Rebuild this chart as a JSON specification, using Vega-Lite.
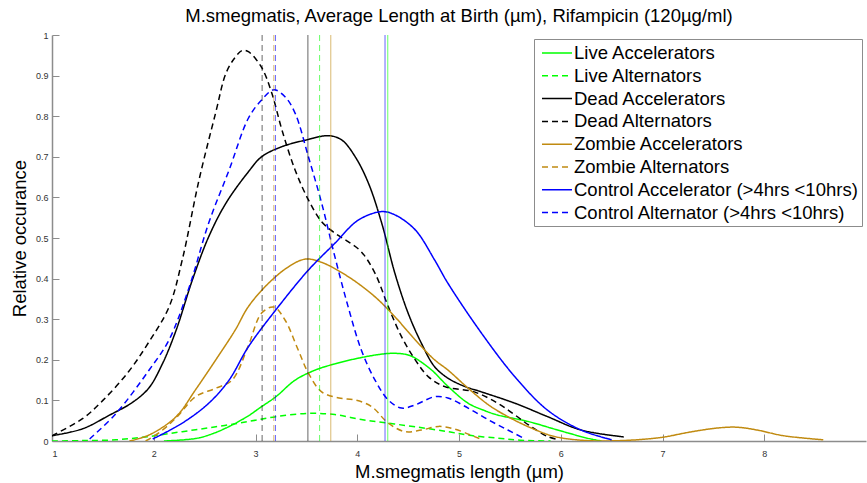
{
  "$schema": "https://vega.github.io/schema/vega-lite/v6.json",
  "autosize": "none",
  "width": 814,
  "height": 406,
  "padding": {"left": 52, "top": 35, "right": 1, "bottom": 42},
  "background": "white",
  "title": {
    "text": "M.smegmatis, Average Length at Birth (µm), Rifampicin (120µg/ml)",
    "font": "Liberation Sans",
    "fontSize": 18.5,
    "fontWeight": "normal",
    "color": "#000000",
    "anchor": "middle",
    "offset": 6
  },
  "config": {
    "view": {"stroke": null},
    "font": "Liberation Sans",
    "axis": {
      "grid": false,
      "domainColor": "#8c8c8c",
      "domainWidth": 1.5,
      "tickColor": "#8c8c8c",
      "tickWidth": 1,
      "tickSize": -7,
      "labelFont": "Liberation Sans",
      "labelFontSize": 9,
      "labelColor": "#333333",
      "titleFont": "Liberation Sans",
      "titleFontSize": 18.5,
      "titleFontWeight": "normal",
      "titleColor": "#000000"
    },
    "legend": {
      "orient": "top-right",
      "offset": 4,
      "strokeColor": "#8c8c8c",
      "fillColor": "#ffffff",
      "padding": 3,
      "rowPadding": 1.8,
      "labelFont": "Liberation Sans",
      "labelFontSize": 18.5,
      "labelColor": "#000000",
      "labelLimit": 400,
      "labelOffset": 6,
      "symbolType": "M-1.5,0L1.5,0",
      "symbolSize": 400,
      "symbolStrokeWidth": 1.5,
      "symbolOpacity": 1,
      "symbolOffset": 9
    }
  },
  "datasets": {
    "curves": [
      {"s": "Live Accelerators", "x": 2.1, "y": 0},
      {"s": "Live Accelerators", "x": 2.3, "y": 0.003},
      {"s": "Live Accelerators", "x": 2.45, "y": 0.008},
      {"s": "Live Accelerators", "x": 2.6, "y": 0.02},
      {"s": "Live Accelerators", "x": 2.71, "y": 0.032},
      {"s": "Live Accelerators", "x": 2.82, "y": 0.046},
      {"s": "Live Accelerators", "x": 2.93, "y": 0.062},
      {"s": "Live Accelerators", "x": 3.05, "y": 0.083},
      {"s": "Live Accelerators", "x": 3.2, "y": 0.109},
      {"s": "Live Accelerators", "x": 3.39, "y": 0.15},
      {"s": "Live Accelerators", "x": 3.59, "y": 0.175},
      {"s": "Live Accelerators", "x": 3.78, "y": 0.19},
      {"s": "Live Accelerators", "x": 4.01, "y": 0.204},
      {"s": "Live Accelerators", "x": 4.24, "y": 0.214},
      {"s": "Live Accelerators", "x": 4.37, "y": 0.216},
      {"s": "Live Accelerators", "x": 4.5, "y": 0.212},
      {"s": "Live Accelerators", "x": 4.57, "y": 0.204},
      {"s": "Live Accelerators", "x": 4.73, "y": 0.175},
      {"s": "Live Accelerators", "x": 4.89, "y": 0.135},
      {"s": "Live Accelerators", "x": 5.09, "y": 0.093},
      {"s": "Live Accelerators", "x": 5.25, "y": 0.075},
      {"s": "Live Accelerators", "x": 5.38, "y": 0.064},
      {"s": "Live Accelerators", "x": 5.68, "y": 0.048},
      {"s": "Live Accelerators", "x": 5.97, "y": 0.027},
      {"s": "Live Accelerators", "x": 6.26, "y": 0.007},
      {"s": "Live Accelerators", "x": 6.4, "y": 0},

      {"s": "Live Alternators", "x": 1.0, "y": 0},
      {"s": "Live Alternators", "x": 1.3, "y": 0.001},
      {"s": "Live Alternators", "x": 1.63, "y": 0.003},
      {"s": "Live Alternators", "x": 1.95, "y": 0.011},
      {"s": "Live Alternators", "x": 2.28, "y": 0.023},
      {"s": "Live Alternators", "x": 2.61, "y": 0.035},
      {"s": "Live Alternators", "x": 2.93, "y": 0.048},
      {"s": "Live Alternators", "x": 3.2, "y": 0.06},
      {"s": "Live Alternators", "x": 3.52, "y": 0.068},
      {"s": "Live Alternators", "x": 3.78, "y": 0.065},
      {"s": "Live Alternators", "x": 4.04, "y": 0.053},
      {"s": "Live Alternators", "x": 4.3, "y": 0.044},
      {"s": "Live Alternators", "x": 4.57, "y": 0.035},
      {"s": "Live Alternators", "x": 4.89, "y": 0.023},
      {"s": "Live Alternators", "x": 5.1, "y": 0.014},
      {"s": "Live Alternators", "x": 5.38, "y": 0.007},
      {"s": "Live Alternators", "x": 5.6, "y": 0.002},
      {"s": "Live Alternators", "x": 5.9, "y": 0},

      {"s": "Dead Accelerators", "x": 1.0, "y": 0.013},
      {"s": "Dead Accelerators", "x": 1.3, "y": 0.03},
      {"s": "Dead Accelerators", "x": 1.56, "y": 0.063},
      {"s": "Dead Accelerators", "x": 1.79, "y": 0.095},
      {"s": "Dead Accelerators", "x": 1.95, "y": 0.13},
      {"s": "Dead Accelerators", "x": 2.085, "y": 0.19},
      {"s": "Dead Accelerators", "x": 2.22, "y": 0.273},
      {"s": "Dead Accelerators", "x": 2.38, "y": 0.397},
      {"s": "Dead Accelerators", "x": 2.54, "y": 0.503},
      {"s": "Dead Accelerators", "x": 2.71, "y": 0.586},
      {"s": "Dead Accelerators", "x": 2.93, "y": 0.663},
      {"s": "Dead Accelerators", "x": 3.06, "y": 0.7},
      {"s": "Dead Accelerators", "x": 3.26, "y": 0.725},
      {"s": "Dead Accelerators", "x": 3.49, "y": 0.741},
      {"s": "Dead Accelerators", "x": 3.72, "y": 0.752},
      {"s": "Dead Accelerators", "x": 3.85, "y": 0.741},
      {"s": "Dead Accelerators", "x": 3.98, "y": 0.7},
      {"s": "Dead Accelerators", "x": 4.11, "y": 0.635},
      {"s": "Dead Accelerators", "x": 4.24, "y": 0.537},
      {"s": "Dead Accelerators", "x": 4.37, "y": 0.413},
      {"s": "Dead Accelerators", "x": 4.5, "y": 0.315},
      {"s": "Dead Accelerators", "x": 4.63, "y": 0.241},
      {"s": "Dead Accelerators", "x": 4.76, "y": 0.183},
      {"s": "Dead Accelerators", "x": 4.89, "y": 0.155},
      {"s": "Dead Accelerators", "x": 5.05, "y": 0.135},
      {"s": "Dead Accelerators", "x": 5.22, "y": 0.121},
      {"s": "Dead Accelerators", "x": 5.55, "y": 0.093},
      {"s": "Dead Accelerators", "x": 5.87, "y": 0.06},
      {"s": "Dead Accelerators", "x": 6.2, "y": 0.027},
      {"s": "Dead Accelerators", "x": 6.62, "y": 0.01},

      {"s": "Dead Alternators", "x": 1.0, "y": 0.013},
      {"s": "Dead Alternators", "x": 1.3, "y": 0.055},
      {"s": "Dead Alternators", "x": 1.5, "y": 0.1},
      {"s": "Dead Alternators", "x": 1.75, "y": 0.17},
      {"s": "Dead Alternators", "x": 1.955, "y": 0.245},
      {"s": "Dead Alternators", "x": 2.15, "y": 0.33},
      {"s": "Dead Alternators", "x": 2.28, "y": 0.446},
      {"s": "Dead Alternators", "x": 2.445, "y": 0.643},
      {"s": "Dead Alternators", "x": 2.61, "y": 0.81},
      {"s": "Dead Alternators", "x": 2.71, "y": 0.906},
      {"s": "Dead Alternators", "x": 2.8, "y": 0.945},
      {"s": "Dead Alternators", "x": 2.87, "y": 0.962},
      {"s": "Dead Alternators", "x": 2.93, "y": 0.959},
      {"s": "Dead Alternators", "x": 3.06, "y": 0.92},
      {"s": "Dead Alternators", "x": 3.16, "y": 0.857},
      {"s": "Dead Alternators", "x": 3.26, "y": 0.766},
      {"s": "Dead Alternators", "x": 3.39, "y": 0.667},
      {"s": "Dead Alternators", "x": 3.52, "y": 0.594},
      {"s": "Dead Alternators", "x": 3.65, "y": 0.54},
      {"s": "Dead Alternators", "x": 3.78, "y": 0.512},
      {"s": "Dead Alternators", "x": 3.91, "y": 0.491},
      {"s": "Dead Alternators", "x": 4.04, "y": 0.466},
      {"s": "Dead Alternators", "x": 4.175, "y": 0.413},
      {"s": "Dead Alternators", "x": 4.305, "y": 0.331},
      {"s": "Dead Alternators", "x": 4.435, "y": 0.257},
      {"s": "Dead Alternators", "x": 4.57, "y": 0.2},
      {"s": "Dead Alternators", "x": 4.7, "y": 0.158},
      {"s": "Dead Alternators", "x": 4.86, "y": 0.134},
      {"s": "Dead Alternators", "x": 5.15, "y": 0.121},
      {"s": "Dead Alternators", "x": 5.38, "y": 0.093},
      {"s": "Dead Alternators", "x": 5.55, "y": 0.064},
      {"s": "Dead Alternators", "x": 5.71, "y": 0.035},
      {"s": "Dead Alternators", "x": 5.87, "y": 0.011},
      {"s": "Dead Alternators", "x": 5.95, "y": 0.005},

      {"s": "Zombie Accelerators", "x": 1.76, "y": 0},
      {"s": "Zombie Accelerators", "x": 1.955, "y": 0.015},
      {"s": "Zombie Accelerators", "x": 2.22, "y": 0.06},
      {"s": "Zombie Accelerators", "x": 2.41, "y": 0.126},
      {"s": "Zombie Accelerators", "x": 2.61, "y": 0.2},
      {"s": "Zombie Accelerators", "x": 2.8, "y": 0.273},
      {"s": "Zombie Accelerators", "x": 2.93, "y": 0.331},
      {"s": "Zombie Accelerators", "x": 3.13, "y": 0.389},
      {"s": "Zombie Accelerators", "x": 3.33, "y": 0.43},
      {"s": "Zombie Accelerators", "x": 3.49, "y": 0.448},
      {"s": "Zombie Accelerators", "x": 3.65, "y": 0.44},
      {"s": "Zombie Accelerators", "x": 3.91, "y": 0.405},
      {"s": "Zombie Accelerators", "x": 4.175, "y": 0.355},
      {"s": "Zombie Accelerators", "x": 4.37, "y": 0.306},
      {"s": "Zombie Accelerators", "x": 4.57, "y": 0.249},
      {"s": "Zombie Accelerators", "x": 4.76, "y": 0.2},
      {"s": "Zombie Accelerators", "x": 4.89, "y": 0.175},
      {"s": "Zombie Accelerators", "x": 5.09, "y": 0.13},
      {"s": "Zombie Accelerators", "x": 5.29, "y": 0.089},
      {"s": "Zombie Accelerators", "x": 5.48, "y": 0.06},
      {"s": "Zombie Accelerators", "x": 5.71, "y": 0.032},
      {"s": "Zombie Accelerators", "x": 5.94, "y": 0.011},
      {"s": "Zombie Accelerators", "x": 6.26, "y": 0.001},
      {"s": "Zombie Accelerators", "x": 6.59, "y": 0.001},
      {"s": "Zombie Accelerators", "x": 6.85, "y": 0.005},
      {"s": "Zombie Accelerators", "x": 7.02, "y": 0.01},
      {"s": "Zombie Accelerators", "x": 7.27, "y": 0.022},
      {"s": "Zombie Accelerators", "x": 7.54, "y": 0.032},
      {"s": "Zombie Accelerators", "x": 7.73, "y": 0.034},
      {"s": "Zombie Accelerators", "x": 7.93, "y": 0.027},
      {"s": "Zombie Accelerators", "x": 8.19, "y": 0.013},
      {"s": "Zombie Accelerators", "x": 8.58, "y": 0.003},

      {"s": "Zombie Alternators", "x": 1.92, "y": 0},
      {"s": "Zombie Alternators", "x": 2.05, "y": 0.02},
      {"s": "Zombie Alternators", "x": 2.22, "y": 0.057},
      {"s": "Zombie Alternators", "x": 2.41, "y": 0.109},
      {"s": "Zombie Alternators", "x": 2.61, "y": 0.13},
      {"s": "Zombie Alternators", "x": 2.77, "y": 0.15},
      {"s": "Zombie Alternators", "x": 2.93, "y": 0.235},
      {"s": "Zombie Alternators", "x": 3.06, "y": 0.315},
      {"s": "Zombie Alternators", "x": 3.18, "y": 0.33},
      {"s": "Zombie Alternators", "x": 3.29, "y": 0.298},
      {"s": "Zombie Alternators", "x": 3.42, "y": 0.224},
      {"s": "Zombie Alternators", "x": 3.52, "y": 0.167},
      {"s": "Zombie Alternators", "x": 3.65, "y": 0.121},
      {"s": "Zombie Alternators", "x": 3.82, "y": 0.106},
      {"s": "Zombie Alternators", "x": 3.98, "y": 0.101},
      {"s": "Zombie Alternators", "x": 4.14, "y": 0.085},
      {"s": "Zombie Alternators", "x": 4.305, "y": 0.044},
      {"s": "Zombie Alternators", "x": 4.47, "y": 0.023},
      {"s": "Zombie Alternators", "x": 4.63, "y": 0.027},
      {"s": "Zombie Alternators", "x": 4.8, "y": 0.036},
      {"s": "Zombie Alternators", "x": 4.95, "y": 0.03},
      {"s": "Zombie Alternators", "x": 5.1, "y": 0.016},
      {"s": "Zombie Alternators", "x": 5.2, "y": 0.006},

      {"s": "Control Accelerator (>4hrs <10hrs)", "x": 1.99, "y": 0.005},
      {"s": "Control Accelerator (>4hrs <10hrs)", "x": 2.28, "y": 0.044},
      {"s": "Control Accelerator (>4hrs <10hrs)", "x": 2.54, "y": 0.093},
      {"s": "Control Accelerator (>4hrs <10hrs)", "x": 2.74, "y": 0.15},
      {"s": "Control Accelerator (>4hrs <10hrs)", "x": 2.93, "y": 0.232},
      {"s": "Control Accelerator (>4hrs <10hrs)", "x": 3.2, "y": 0.323},
      {"s": "Control Accelerator (>4hrs <10hrs)", "x": 3.52, "y": 0.421},
      {"s": "Control Accelerator (>4hrs <10hrs)", "x": 3.78, "y": 0.487},
      {"s": "Control Accelerator (>4hrs <10hrs)", "x": 4.01, "y": 0.544},
      {"s": "Control Accelerator (>4hrs <10hrs)", "x": 4.24, "y": 0.565},
      {"s": "Control Accelerator (>4hrs <10hrs)", "x": 4.37, "y": 0.557},
      {"s": "Control Accelerator (>4hrs <10hrs)", "x": 4.57, "y": 0.52},
      {"s": "Control Accelerator (>4hrs <10hrs)", "x": 4.76, "y": 0.446},
      {"s": "Control Accelerator (>4hrs <10hrs)", "x": 4.89, "y": 0.389},
      {"s": "Control Accelerator (>4hrs <10hrs)", "x": 5.22, "y": 0.266},
      {"s": "Control Accelerator (>4hrs <10hrs)", "x": 5.55, "y": 0.158},
      {"s": "Control Accelerator (>4hrs <10hrs)", "x": 5.87, "y": 0.076},
      {"s": "Control Accelerator (>4hrs <10hrs)", "x": 6.2, "y": 0.027},
      {"s": "Control Accelerator (>4hrs <10hrs)", "x": 6.5, "y": 0.003},

      {"s": "Control Alternator (>4hrs <10hrs)", "x": 1.37, "y": 0.005},
      {"s": "Control Alternator (>4hrs <10hrs)", "x": 1.63, "y": 0.068},
      {"s": "Control Alternator (>4hrs <10hrs)", "x": 1.955, "y": 0.175},
      {"s": "Control Alternator (>4hrs <10hrs)", "x": 2.15, "y": 0.249},
      {"s": "Control Alternator (>4hrs <10hrs)", "x": 2.35, "y": 0.38},
      {"s": "Control Alternator (>4hrs <10hrs)", "x": 2.54, "y": 0.537},
      {"s": "Control Alternator (>4hrs <10hrs)", "x": 2.74, "y": 0.667},
      {"s": "Control Alternator (>4hrs <10hrs)", "x": 2.93, "y": 0.795},
      {"s": "Control Alternator (>4hrs <10hrs)", "x": 3.06, "y": 0.84},
      {"s": "Control Alternator (>4hrs <10hrs)", "x": 3.18, "y": 0.865},
      {"s": "Control Alternator (>4hrs <10hrs)", "x": 3.29, "y": 0.848},
      {"s": "Control Alternator (>4hrs <10hrs)", "x": 3.39, "y": 0.807},
      {"s": "Control Alternator (>4hrs <10hrs)", "x": 3.52, "y": 0.7},
      {"s": "Control Alternator (>4hrs <10hrs)", "x": 3.65, "y": 0.586},
      {"s": "Control Alternator (>4hrs <10hrs)", "x": 3.78, "y": 0.454},
      {"s": "Control Alternator (>4hrs <10hrs)", "x": 3.91, "y": 0.331},
      {"s": "Control Alternator (>4hrs <10hrs)", "x": 4.04, "y": 0.224},
      {"s": "Control Alternator (>4hrs <10hrs)", "x": 4.175, "y": 0.15},
      {"s": "Control Alternator (>4hrs <10hrs)", "x": 4.305, "y": 0.101},
      {"s": "Control Alternator (>4hrs <10hrs)", "x": 4.435, "y": 0.081},
      {"s": "Control Alternator (>4hrs <10hrs)", "x": 4.57, "y": 0.089},
      {"s": "Control Alternator (>4hrs <10hrs)", "x": 4.76, "y": 0.109},
      {"s": "Control Alternator (>4hrs <10hrs)", "x": 4.89, "y": 0.106},
      {"s": "Control Alternator (>4hrs <10hrs)", "x": 5.09, "y": 0.081},
      {"s": "Control Alternator (>4hrs <10hrs)", "x": 5.29, "y": 0.052},
      {"s": "Control Alternator (>4hrs <10hrs)", "x": 5.48, "y": 0.027},
      {"s": "Control Alternator (>4hrs <10hrs)", "x": 5.65, "y": 0.005}
    ],
    "means": [
      {"s": "Live Accelerators", "x": 4.3},
      {"s": "Live Alternators", "x": 3.63},
      {"s": "Dead Accelerators", "x": 3.515},
      {"s": "Dead Alternators", "x": 3.065},
      {"s": "Zombie Accelerators", "x": 3.74},
      {"s": "Zombie Alternators", "x": 3.18},
      {"s": "Control Accelerator (>4hrs <10hrs)", "x": 4.273},
      {"s": "Control Alternator (>4hrs <10hrs)", "x": 3.196}
    ]
  },
  "layer": [
    {
      "data": {"name": "curves"},
      "mark": {"type": "line", "interpolate": "catmull-rom", "strokeWidth": 1.5, "clip": true},
      "encoding": {
        "x": {
          "field": "x", "type": "quantitative",
          "scale": {"domain": [1, 9], "nice": false, "zero": false},
          "axis": {"title": "M.smegmatis length (µm)", "values": [1, 2, 3, 4, 5, 6, 7, 8], "format": "d", "labelPadding": 15, "titlePadding": 4}
        },
        "y": {
          "field": "y", "type": "quantitative",
          "scale": {"domain": [0, 1], "nice": false},
          "axis": {"title": "Relative occurance", "values": [0, 0.1, 0.2, 0.3, 0.4, 0.5, 0.6, 0.7, 0.8, 0.9, 1], "format": "~g", "labelPadding": 11, "titlePadding": 6}
        },
        "color": {
          "field": "s", "type": "nominal", "title": null,
          "scale": {
            "domain": ["Live Accelerators", "Live Alternators", "Dead Accelerators", "Dead Alternators", "Zombie Accelerators", "Zombie Alternators", "Control Accelerator (>4hrs <10hrs)", "Control Alternator (>4hrs <10hrs)"],
            "range": ["#00ff00", "#00ff00", "#000000", "#000000", "#c08a10", "#c08a10", "#0000ff", "#0000ff"]
          }
        },
        "strokeDash": {
          "field": "s", "type": "nominal", "title": null,
          "scale": {
            "domain": ["Live Accelerators", "Live Alternators", "Dead Accelerators", "Dead Alternators", "Zombie Accelerators", "Zombie Alternators", "Control Accelerator (>4hrs <10hrs)", "Control Alternator (>4hrs <10hrs)"],
            "range": [[1, 0], [6, 4], [1, 0], [6, 4], [1, 0], [6, 4], [1, 0], [6, 4]]
          }
        },
        "order": {"field": "x", "type": "quantitative"}
      }
    },
    {
      "data": {"name": "means"},
      "mark": {"type": "rule", "strokeWidth": 1, "opacity": 0.6},
      "encoding": {
        "x": {"field": "x", "type": "quantitative"},
        "color": {"field": "s", "type": "nominal", "title": null},
        "strokeDash": {"field": "s", "type": "nominal", "title": null}
      }
    }
  ]
}
